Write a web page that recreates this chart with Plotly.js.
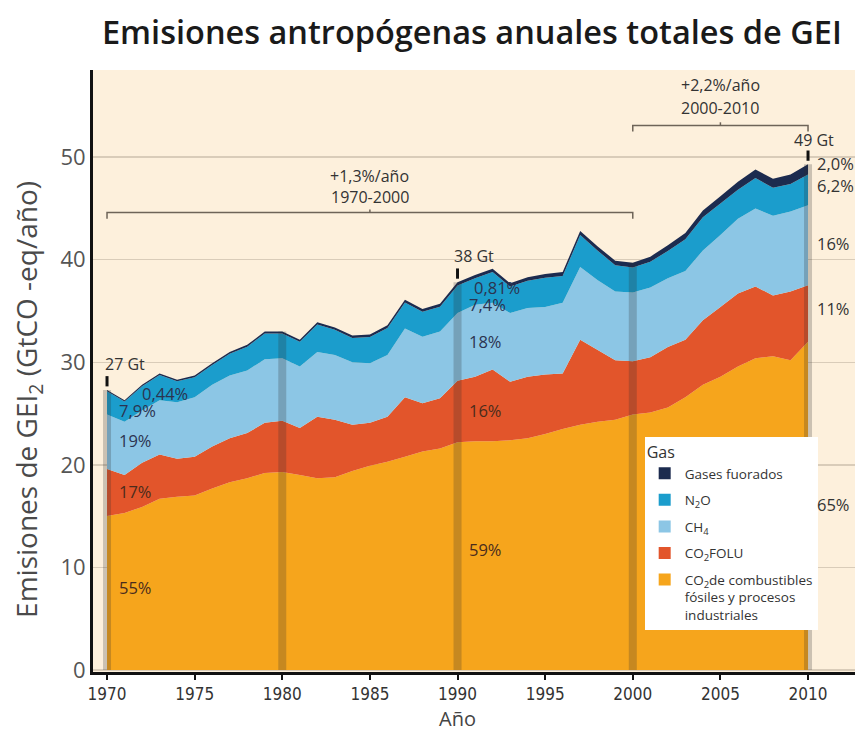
<!DOCTYPE html>
<html><head><meta charset="utf-8">
<script src="https://cdn.plot.ly/plotly-3.0.1.min.js"></script>
<style>html,body{margin:0;padding:0;background:#fff}#chart{width:858px;height:734px}</style>
</head><body><div id="chart"></div>
<script>
const years = [1970,1971,1972,1973,1974,1975,1976,1977,1978,1979,1980,1981,1982,1983,1984,1985,1986,1987,1988,1989,1990,1991,1992,1993,1994,1995,1996,1997,1998,1999,2000,2001,2002,2003,2004,2005,2006,2007,2008,2009,2010];
const co2Fossil = [15.0,15.3,15.9,16.7,16.9,17.0,17.7,18.3,18.7,19.2, 19.3,19.0,18.7,18.8,19.4,19.9,20.3,20.8,21.3,21.6, 22.2,22.3,22.3,22.4,22.6,23.0,23.5,23.9,24.2,24.4, 24.9,25.1,25.6,26.6,27.8,28.6,29.6,30.4,30.6,30.2,32.0];
const co2Folu = [4.6,3.7,4.3,4.3,3.7,3.8,4.1,4.3,4.4,4.9, 5.0,4.6,6.0,5.6,4.5,4.2,4.4,5.8,4.7,4.9, 6.0,6.3,7.0,5.7,6.0,5.8,5.4,8.3,7.0,5.8, 5.2,5.4,5.9,5.6,6.3,6.8,7.1,7.0,5.9,6.7,5.5];
const ch4 = [5.3,5.2,5.1,5.3,5.5,5.8,6.0,6.1,6.1,6.2, 6.1,6.0,6.3,6.3,6.1,5.8,6.0,6.7,6.5,6.5, 6.6,7.0,6.5,6.7,6.7,6.6,6.9,7.1,6.8,6.7, 6.7,6.8,6.7,6.7,6.8,7.0,7.3,7.6,7.8,7.8,7.8];
const n2o = [2.28,1.98,2.37,2.46,2.06,1.95,1.94,2.13,2.32,2.51, 2.40,2.40,2.69,2.48,2.37,2.56,2.65,2.53,2.42,2.41, 2.69,2.60,3.00,2.58,2.66,2.84,2.62,3.10,2.88,2.56, 2.44,2.50,2.65,3.10,3.24,3.08,2.82,2.96,2.72,2.68,3.02];
const fGases = [0.12,0.12,0.13,0.14,0.14,0.15,0.16,0.17,0.18,0.19, 0.20,0.20,0.21,0.22,0.23,0.24,0.25,0.27,0.28,0.29, 0.31,0.30,0.31,0.32,0.34,0.36,0.38,0.40,0.42,0.44, 0.46,0.50,0.55,0.60,0.66,0.72,0.78,0.84,0.88,0.92,0.98];

const gasNames = ['CO<sub>2</sub>de combustibles<br>fósiles y procesos<br>industriales','CO<sub>2</sub>FOLU','CH<sub>4</sub>','N<sub>2</sub>O','Gases fuorados'];
const xTicks = [1970,1975,1980,1985,1990,1995,2000,2005,2010];
const yTicks = [0,10,20,30,40,50];
const markerYears = [1970,1980,1990,2000,2010];
const labelYears = [1970,1990,2010];
const totalLabels = ['27 Gt','38 Gt','49 Gt'];
// shares from top (F-gases) to bottom (fossil CO2)
const shares1970 = ['0,44%','7,9%','19%','17%','55%'];
const shares1990 = ['0,81%','7,4%','18%','16%','59%'];
const shares2010 = ['2,0%','6,2%','16%','11%','65%'];
const periods = [{rate:'+1,3%/año', span:'1970-2000', from:1970, to:2000},{rate:'+2,2%/año', span:'2000-2010', from:2000, to:2010}];

const colors = ['#f6a51c','#e2552b','#8cc6e5','#1b9dcc','#1c2b4f'];
const series = [co2Fossil, co2Folu, ch4, n2o, fGases];
const totals = years.map((_, i) => series.reduce((s, a) => s + a[i], 0));

const traces = [];
series.forEach((arr, k) => {
  traces.push({type:'scatter', x:years, y:arr, stackgroup:'ghg', mode:'none',
    fillcolor:colors[k], line:{width:0}, showlegend:false, hoverinfo:'skip'});
});
markerYears.forEach(yr => {
  const i = years.indexOf(yr);
  traces.push({type:'scatter', x:[yr,yr], y:[0,totals[i]], mode:'lines',
    line:{color:'rgba(45,45,45,0.24)', width:8}, showlegend:false, hoverinfo:'skip'});
});
labelYears.forEach(yr => {
  const i = years.indexOf(yr);
  traces.push({type:'scatter', x:[yr,yr], y:[totals[i]+0.35,totals[i]+1.35], mode:'lines',
    line:{color:'#111', width:3}, showlegend:false, hoverinfo:'skip'});
});
// legend entries: top layer first
for (let k = series.length - 1; k >= 0; k--) {
  traces.push({type:'scatter', x:[null], y:[null], mode:'markers', name:gasNames[k],
    marker:{symbol:'square', size:12, color:colors[k]}, legendgroup:'g'+k, showlegend:true, hoverinfo:'skip'});
}

const annotations = [];
function txt(x, y, text, opts) {
  annotations.push(Object.assign({x:x, y:y, xref:'x', yref:'y', text:text, showarrow:false,
    xanchor:'left', yanchor:'middle', font:{family:'Open Sans, sans-serif', size:16, color:'#333'}}, opts || {}));
}
// total labels
const totalPos = [[1969.75,29.8],[1989.7,40.35],[2009.1,51.7]];
totalLabels.forEach((t, k) => txt(totalPos[k][0], totalPos[k][1], t, {font:{family:'Open Sans, sans-serif', size:16, color:'#333'}}));
// share labels
const pos1970 = [[1971.9,27.0],[1970.57,25.3],[1970.57,22.4],[1970.57,17.4],[1970.57,8.0]];
const pos1990 = [[1990.83,37.3],[1990.54,35.6],[1990.54,32.0],[1990.54,25.3],[1990.54,11.7]];
const pos2010 = [[2010.4,49.4],[2010.4,47.2],[2010.4,41.6],[2010.4,35.2],[2010.4,16.1]];
const warm = '#4a2c1c';
[[shares1970,pos1970],[shares1990,pos1990],[shares2010,pos2010]].forEach(([lab, pos], g) => {
  lab.forEach((t, k) => {
    const c = (g < 2 && k >= 3) ? warm : (g===2 ? '#333' : '#2b3350');
    txt(pos[k][0], pos[k][1], t, {font:{family:'Open Sans, sans-serif', size:16.5, color:c}});
  });
});
// period brackets
const shapes = [];
const brY = [44.6, 53.1];
const rateY = [[48.2,46.1],[57.0,54.8]];
periods.forEach((p, k) => {
  const y = brY[k], mid = (p.from + p.to) / 2;
  shapes.push({type:'path', xref:'x', yref:'y',
    path:`M ${p.from},${y-0.6} L ${p.from},${y} L ${p.to},${y} L ${p.to},${y-0.6}`,
    line:{color:'#6e6458', width:1.5}});
  shapes.push({type:'line', xref:'x', yref:'y', x0:mid, x1:mid, y0:y, y1:y+0.3,
    line:{color:'#6e6458', width:1.5}});
  txt(mid, rateY[k][0], p.rate, {xanchor:'center', font:{family:'Open Sans, sans-serif', size:16, color:'#333'}});
  txt(mid, rateY[k][1], p.span, {xanchor:'center', font:{family:'Open Sans, sans-serif', size:16, color:'#333'}});
});
// axis titles
annotations.push({xref:'paper', yref:'paper', x:-0.0853, y:0.452, textangle:-90, showarrow:false,
  xanchor:'center', yanchor:'middle', text:'Emisiones de GEI<sub>2</sub> (GtCO -eq/año)',
  font:{family:'Open Sans, sans-serif', size:28, color:'#4a4a4a'}});
annotations.push({xref:'x', yref:'paper', x:1990, y:-0.077, showarrow:false,
  xanchor:'center', yanchor:'middle', text:'Año',
  font:{family:'Open Sans, sans-serif', size:20, color:'#444'}});

const layout = {
  width:858, height:734,
  margin:{l:93, r:3, t:70, b:62},
  paper_bgcolor:'#ffffff', plot_bgcolor:'#fdf0dc',
  font:{family:'Open Sans, sans-serif', color:'#333'},
  title:{text:'Emisiones antropógenas anuales totales de GEI', x:0.55, xanchor:'center', y:0.955, yanchor:'middle',
    font:{family:'Open Sans, sans-serif', size:32.5, color:'#1a1a1a', weight:600}},
  xaxis:{range:[1969.2, 2012.68], tickvals:xTicks, ticktext:xTicks.map(String), ticks:'outside', ticklen:5, tickwidth:2,
    tickcolor:'#111', showgrid:false, showline:true, linecolor:'#111', linewidth:3, zeroline:false,
    tickfont:{family:'DejaVu Sans Condensed, Liberation Sans Narrow, sans-serif', size:17, color:'#333'}},
  yaxis:{range:[-0.2, 58.5], tickvals:yTicks, ticks:'', showgrid:true, gridcolor:'#d9ccb9', gridwidth:1.5,
    showline:true, linecolor:'#111', linewidth:3, zeroline:false,
    tickfont:{family:'Open Sans, sans-serif', size:22, color:'#555'}},
  showlegend:true,
  legend:{x:0.724, y:0.39, xanchor:'left', yanchor:'top', bgcolor:'#ffffff', borderwidth:0,
    traceorder:'grouped', tracegroupgap:6, valign:'top',
    title:{text:'Gas', font:{family:'Open Sans, sans-serif', size:16, color:'#333'}},
    font:{family:'Open Sans, sans-serif', size:13.5, color:'#333'}, itemwidth:30},
  shapes:shapes, annotations:annotations, hovermode:false
};
Plotly.newPlot('chart', traces, layout, {displayModeBar:false, staticPlot:true});
</script></body></html>
